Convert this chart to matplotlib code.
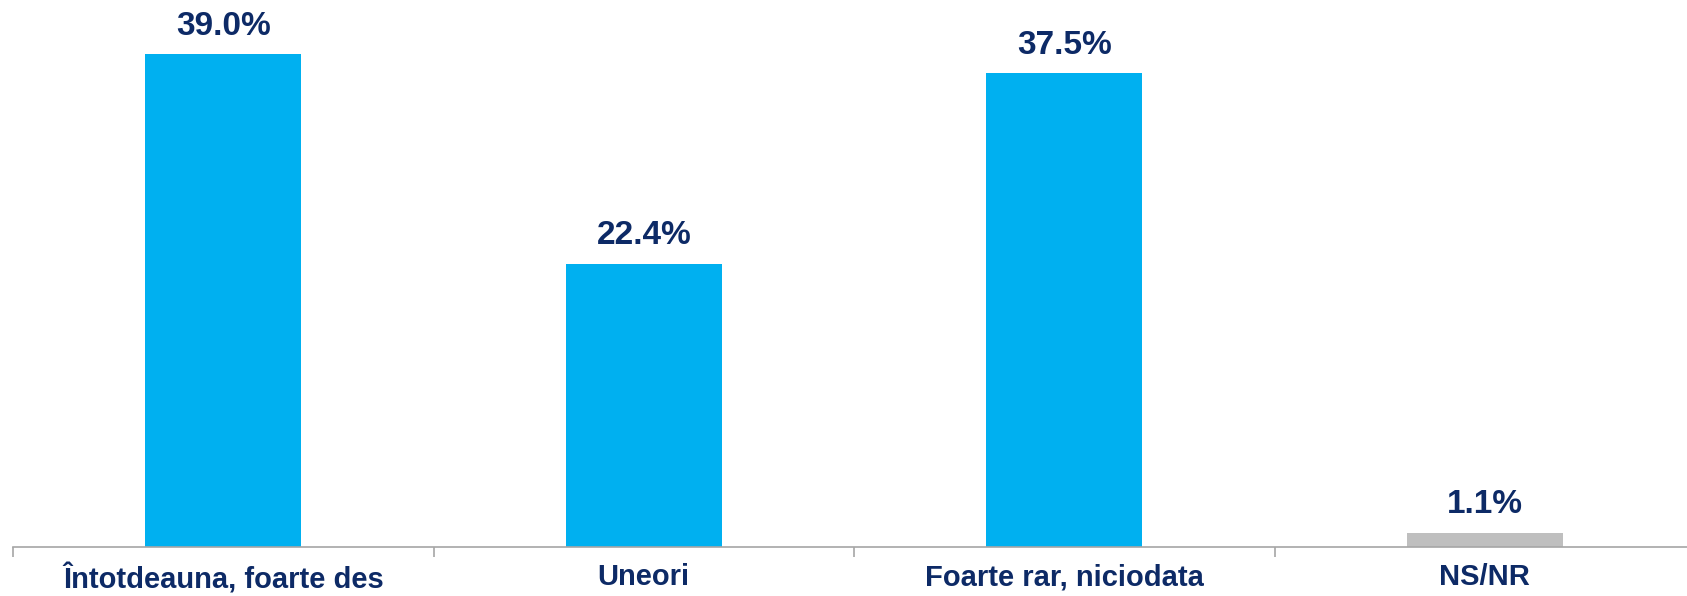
import numpy as np
import matplotlib.pyplot as plt

# date grafic
categorii = ['Întotdeauna, foarte des', 'Uneori', 'Foarte rar, niciodata', 'NS/NR']
valori = [39.0, 22.4, 37.5, 1.1]
culori = ['#00B0F0', '#00B0F0', '#00B0F0', '#BFBFBF']

plt.rcParams['font.family'] = ['Liberation Sans', 'DejaVu Sans']
navy = '#0D2A66'

fig = plt.figure(figsize=(16.87, 5.96), dpi=100)
ax = fig.add_axes([13 / 1687, 49.3 / 596, 4 * 420.5 / 1687, 546.7 / 596])

x = np.arange(len(categorii))
bare = ax.bar(x, valori, width=0.372, color=culori)

for xi, v in zip(x, valori):
    ax.annotate(f'{v:.1f}%', (xi, v), xytext=(0, 9), textcoords='offset points',
                ha='center', va='bottom', fontsize=24, fontweight='bold', color=navy)

ax.set_xlim(-0.5, 3.5)
ax.set_ylim(0, 43.28)

# ticks majore la granite, etichete pe ticks minore
ax.set_xticks(np.arange(-0.5, 4.0, 1.0))
ax.set_xticklabels([])
ax.set_xticks(x, minor=True)
ax.set_xticklabels(categorii, minor=True, fontsize=21, fontweight='bold', color=navy)
ax.tick_params(axis='x', which='major', length=7, width=1.2, color='#A6A6A6', direction='out')
ax.tick_params(axis='x', which='minor', length=0, pad=12)

ax.set_yticks([])
for s in ['top', 'right', 'left']:
    ax.spines[s].set_visible(False)
ax.spines['bottom'].set_color('#A6A6A6')
ax.spines['bottom'].set_linewidth(1.2)

fig.savefig('out.png', dpi=100)
